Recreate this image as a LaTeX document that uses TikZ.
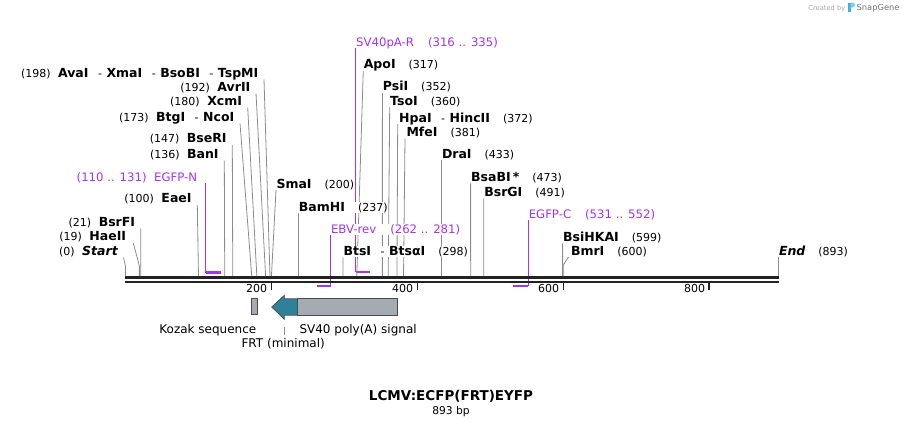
\documentclass[tikz,border=0pt]{standalone}
\usepackage{fontspec}
\setmainfont{DejaVu Sans}[BoldFont={DejaVu Sans Bold},ItalicFont={DejaVu Sans Oblique},BoldItalicFont={DejaVu Sans Bold Oblique}]
\usepackage{tikz}
\usetikzlibrary{positioning,calc}
\definecolor{PR}{HTML}{A235F0}
\definecolor{LN}{HTML}{8C8C8C}
\definecolor{MP}{HTML}{222222}
\definecolor{FG}{HTML}{A5ABB3}
\definecolor{FT}{HTML}{2F8199}
\definecolor{SG}{HTML}{3DB2E8}
\newcommand{\enm}[1]{{\fontsize{12.5}{13}\selectfont\bfseries #1}}
\newcommand{\esep}{\hspace{9.5pt}-\hspace{4.5pt}}
\newcommand{\bpx}[1]{125.5+0.7297*#1}

\begin{document}
\begin{tikzpicture}[x=1pt,y=-1pt,
    lbl/.style={inner sep=0.6pt, fill=white, font=\fontsize{11}{12}\selectfont},
    lft/.style={lbl, anchor=base east, xshift=-4.9pt, yshift=2.3pt},
    rgt/.style={lbl, anchor=base west, xshift=-0.3pt, yshift=2pt},
    plbl/.style={text=PR, font=\fontsize{11.7}{12}\selectfont},
    cut/.style={draw=LN, line width=0.8pt},
    prim/.style={draw=PR, line width=1.2pt},
    pbar/.style={draw=PR, line width=2.1pt},
    mapln/.style={draw=MP, line width=2.4pt},
    feat/.style={draw=black!70, line width=0.7pt},
    flbl/.style={inner sep=0pt, font=\fontsize{12}{13}\selectfont}]

  \useasboundingbox (0,0) rectangle (904,426);

  %% primers, under the map
  \coordinate (tpN) at (205.8,183.3);
  \coordinate (tpR) at (355.7,48.3);
  \coordinate (tpE) at (330.5,235);
  \coordinate (tpC) at (528.3,220);
  \draw[prim] (tpN) -- (205.8,272.5);
  \draw[pbar] (205.8,272.5) -- ({\bpx{131}},272.5);
  \draw[prim] (tpR) -- (355.7,272.3);
  \draw[pbar] (355.7,272.3) -- ({\bpx{335}},272.3);
  \draw[prim] (tpE) -- (330.5,285.8);
  \draw[pbar] (330.5,285.8) -- ({\bpx{262}},285.8);
  \draw[prim] (tpC) -- (528.3,286);
  \draw[pbar] (528.3,286) -- ({\bpx{531}},286);

  %% sequence line
  \coordinate (mapL) at (125,277.3);
  \coordinate (mapR) at (778.5,277.3);
  \draw[mapln] (mapL) -- (mapR);
  \draw[mapln, line width=2pt] ([yshift=-4.4pt]mapL) -- ([yshift=-4.4pt]mapR);
  \foreach \t in {200,400,600,800}{
    \draw[MP, line width=1.6pt] ({\bpx{\t}},282.5) -- ({\bpx{\t}},290);
    \node[anchor=base east, inner sep=0pt, font=\fontsize{11}{12}\selectfont]
      (tk\t) at ({\bpx{\t}-4},292.3) {\t};
  }

  %% cut sites: name / top of line / bp
  \foreach \id/\tx/\ty/\bp in {ava/264/79.3/198, avr/256/93.3/192,
      xcm/247.7/107.7/180, btg/240/123.3/173, bse/232.3/145/147,
      ban/224.3/160.7/136, eae/197.3/205/100, bsf/140.8/228.3/21,
      sma/276/190/200, bam/298.4/213.3/237, bts/343/257.3/298,
      apo/363.3/70/317, psi/382.4/92.7/352, tso/389.7/107/360,
      hpa/397.7/124/372, mfe/405/138.3/381, dra/441.5/160/433,
      bsa/470.6/183.3/473, bsg/483.8/198.3/491, bsi/562.6/243.3/599}{
    \coordinate (t\id) at (\tx,\ty);
    \coordinate (s\id) at ({\bpx{\bp}},276);
    \draw[cut] (t\id) -- (s\id);
  }
  \coordinate (thae) at (133.3,243);
  \coordinate (shae) at ({\bpx{19}},276);
  \draw[cut] (thae) -- (139.4,266) -- (shae);
  \coordinate (tsta) at (123.5,257.5);
  \coordinate (ssta) at ({\bpx{0}},276);
  \draw[cut] (tsta) -- (125.5,266) -- (ssta);
  \coordinate (tbmr) at (568.5,257);
  \coordinate (sbmr) at ({\bpx{600}},276);
  \draw[cut] (tbmr) -- (563.3,265) -- (sbmr);
  \coordinate (tend) at (778.5,257);
  \draw[cut] (tend) -- ([yshift=1.2pt]mapR);

  %% labels left of their line
  \node[lft] (lava) at (tava) {(198)\hspace{7.5pt}\enm{AvaI}\esep\enm{XmaI}\esep\enm{BsoBI}\esep\enm{TspMI}};
  \node[lft] (lavr) at (tavr) {(192)\hspace{7.5pt}\enm{AvrII}};
  \node[lft] (lxcm) at (txcm) {(180)\hspace{7.5pt}\enm{XcmI}};
  \node[lft] (lbtg) at (tbtg) {(173)\hspace{7.5pt}\enm{BtgI}\esep\enm{NcoI}};
  \node[lft] (lbse) at (tbse) {(147)\hspace{7.5pt}\enm{BseRI}};
  \node[lft] (lban) at (tban) {(136)\hspace{7.5pt}\enm{BanI}};
  \node[lft, plbl, xshift=-3pt] (lpN) at (tpN) {(110 .. 131)\hspace{7.5pt}EGFP-N};
  \node[lft] (leae) at (teae) {(100)\hspace{7.5pt}\enm{EaeI}};
  \node[lft] (lbsf) at (tbsf) {(21)\hspace{7.5pt}\enm{BsrFI}};
  \node[lft, xshift=-1.5pt] (lhae) at (thae) {(19)\hspace{7.5pt}\enm{HaeII}};
  \node[lft] (lsta) at (tsta) {(0)\hspace{7.5pt}\enm{\itshape Start}};

  %% labels right of their line
  \node[rgt, plbl] (lpR) at (tpR) {SV40pA-R\hspace{14pt}(316 .. 335)};
  \node[rgt] (lapo) at (tapo) {\enm{ApoI}\hspace{13pt}(317)};
  \node[rgt] (lpsi) at (tpsi) {\enm{PsiI}\hspace{13pt}(352)};
  \node[rgt] (ltso) at (ttso) {\enm{TsoI}\hspace{13pt}(360)};
  \node[rgt, xshift=1pt] (lhpa) at (thpa) {\enm{HpaI}\esep\enm{HincII}\hspace{13pt}(372)};
  \node[rgt, xshift=1pt] (lmfe) at (tmfe) {\enm{MfeI}\hspace{13pt}(381)};
  \node[rgt] (ldra) at (tdra) {\enm{DraI}\hspace{13pt}(433)};
  \node[rgt] (lsma) at (tsma) {\enm{SmaI}\hspace{13pt}(200)};
  \node[rgt] (lbsa) at (tbsa) {\enm{BsaBI\,*}\hspace{13pt}(473)};
  \node[rgt] (lbsg) at (tbsg) {\enm{BsrGI}\hspace{13pt}(491)};
  \node[rgt] (lbam) at (tbam) {\enm{BamHI}\hspace{13pt}(237)};
  \node[rgt, plbl] (lpE) at (tpE) {EBV-rev\hspace{14pt}(262 .. 281)};
  \node[rgt, plbl] (lpC) at (tpC) {EGFP-C\hspace{14pt}(531 .. 552)};
  \node[rgt] (lbsi) at (tbsi) {\enm{BsiHKAI}\hspace{13pt}(599)};
  \node[rgt] (lbts) at (tbts) {\enm{BtsI}\esep\enm{BtsαI}\hspace{13pt}(298)};
  \node[rgt, xshift=2pt] (lbmr) at (tbmr) {\enm{BmrI}\hspace{13pt}(600)};
  \node[rgt] (lend) at (tend) {\enm{\itshape End}\hspace{13pt}(893)};

  %% features
  \node[feat, fill=FG, minimum width=6pt, minimum height=16.5pt, inner sep=0pt] (kozak) at (254.7,306.5) {};
  \draw[feat, fill=FT] (297.7,298.8) -- (284.3,298.8) -- (284.3,295.3) -- (271.7,307)
    -- (284.3,319.3) -- (284.3,315.2) -- (297.7,315.2) -- cycle;
  \node[feat, fill=FG, minimum width=100pt, minimum height=16.4pt, inner sep=0pt] (sv40) at (347.7,307) {};
  \node[flbl, anchor=base east] (lkoz) at (256.5,333.7) {Kozak sequence};
  \node[flbl, anchor=base west] (lsv) at (299.3,333.7) {SV40 poly(A) signal};
  \node[flbl, anchor=base] (lfrt) at (283.2,347) {FRT (minimal)};
  \coordinate (frtA) at (284.7,326.7);
  \draw[cut, line width=0.6pt, shorten >=2.5pt] (frtA) -- (frtA |- lfrt.north);

  %% title
  \node[anchor=base, inner sep=0pt, font=\fontsize{13.5}{14}\selectfont\bfseries] (ttl) at (451,400.5) {LCMV:ECFP(FRT)EYFP};
  \node[anchor=base, inner sep=0pt, font=\fontsize{10.7}{11}\selectfont] (len) at (451,414) {893 bp};

  %% watermark
  \node[anchor=base east, inner sep=0pt, text=black!35, font=\fontsize{6.7}{7}\selectfont] (crb) at (845.5,10) {Created by};
  \fill[SG] (848,2.5) rectangle (850.5,12);
  \fill[SG!65] (850.5,2.5) -- (852.5,2.5) arc[start angle=-90, end angle=90, radius=2.5] -- (850.5,7.5) -- cycle;
  \node[anchor=base west, inner sep=0pt, text=black!55, font=\fontsize{8.3}{9}\selectfont] (sgn) at (856.5,10.5) {SnapGene};
\end{tikzpicture}
\end{document}
